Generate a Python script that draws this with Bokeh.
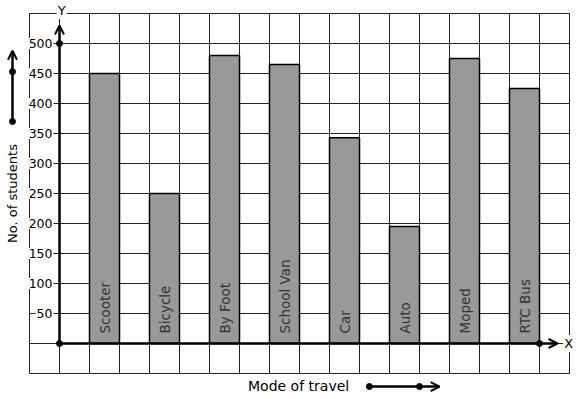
import math
from bokeh.plotting import figure
from bokeh.models import Range1d, Arrow, OpenHead, ColumnDataSource
from bokeh.core.properties import value
from bokeh.embed import file_html
from bokeh.resources import INLINE

# ---- data ----
modes = ["Scooter", "Bicycle", "By Foot", "School Van", "Car", "Auto", "Moped", "RTC Bus"]
students = [450, 250, 480, 465, 343, 195, 475, 425]
y_ticks = [50, 100, 150, 200, 250, 300, 350, 400, 450, 500]
y_title = "No. of students"
x_title = "Mode of travel"

FONT = value("DejaVu Sans")

# grid units: x in grid cells (30 px), y in students (50 per cell)
p = figure(width=577, height=399,
           x_range=Range1d(-29 / 30, 548 / 30),
           y_range=Range1d(-56 / 0.6, 343 / 0.6),
           output_backend="svg", toolbar_location=None,
           x_axis_location=None, y_axis_location=None, min_border=0)
p.grid.visible = False
p.outline_line_color = None
p.background_fill_color = "white"
p.border_fill_color = "white"

# grid paper
cols = list(range(0, 19))
rows = list(range(-50, 551, 50))
p.segment(x0=cols, y0=-50, x1=cols, y1=550, line_color="#222222", line_width=1)
p.segment(x0=0, y0=rows, x1=18, y1=rows, line_color="#222222", line_width=1)

# bars
xs = [2.5 + 2 * i for i in range(len(modes))]
src = ColumnDataSource(dict(x=xs, top=students, mode=modes))
p.vbar(x="x", top="top", bottom=0, width=1, source=src,
       fill_color="#999999", line_color="black", line_width=1.5)
p.text(x="x", y=0, text="mode", source=src, angle=math.pi / 2,
       text_align="left", text_baseline="middle", y_offset=-10,
       text_font=FONT, text_font_size="13.5px", text_color="#333333")

# axes with arrows
ymax = max(y_ticks) + 30
xend = xs[-1] + 0.5 + 0.6
p.add_layout(Arrow(end=OpenHead(size=9, line_width=2, line_color="black"),
                   x_start=1, y_start=0, x_end=1, y_end=ymax,
                   line_width=2.5, line_color="black"))
p.add_layout(Arrow(end=OpenHead(size=9, line_width=2, line_color="black"),
                   x_start=1, y_start=0, x_end=xend, y_end=0,
                   line_width=2.5, line_color="black"))
p.scatter(x=[1, 1, xs[-1] + 0.5], y=[0, max(y_ticks), 0], size=6, color="black")

# tick labels
tsrc = ColumnDataSource(dict(y=y_ticks, t=[str(v) for v in y_ticks]))
p.text(x=0.8, y="y", text="t", source=tsrc, text_align="right",
       text_baseline="middle", text_font=FONT, text_font_size="12.5px",
       text_color="black", background_fill_color="white", padding=1)

p.text(x=[1.07], y=[555], text=["Y"], text_align="center", text_baseline="middle",
       text_font=FONT, text_font_size="13px", text_color="black",
       background_fill_color="white", padding=1)
p.text(x=[17.97], y=[0], text=["X"], text_align="center", text_baseline="middle",
       text_font=FONT, text_font_size="13px", text_color="black",
       background_fill_color="white", padding=1)

# axis titles
p.text(x=[-0.567], y=[250], text=[y_title], angle=math.pi / 2, text_align="center",
       text_baseline="middle", text_font=FONT, text_font_size="13px", text_color="black")
p.text(x=[8.97], y=[-70], text=[x_title], text_align="center",
       text_baseline="middle", text_font=FONT, text_font_size="14px", text_color="black")

# direction arrows beside titles
p.add_layout(Arrow(end=OpenHead(size=9, line_width=2, line_color="black"),
                   x_start=-0.567, y_start=370, x_end=-0.567, y_end=488,
                   line_width=2.5, line_color="black"))
p.scatter(x=[-0.567, -0.567], y=[370, 453], size=6, color="black")
p.add_layout(Arrow(end=OpenHead(size=9, line_width=2, line_color="black"),
                   x_start=11.33, y_start=-71.7, x_end=13.67, y_end=-71.7,
                   line_width=2.5, line_color="black"))
p.scatter(x=[11.33, 13.0], y=[-71.7, -71.7], size=6, color="black")

open("out.html", "w").write(file_html(p, INLINE))
